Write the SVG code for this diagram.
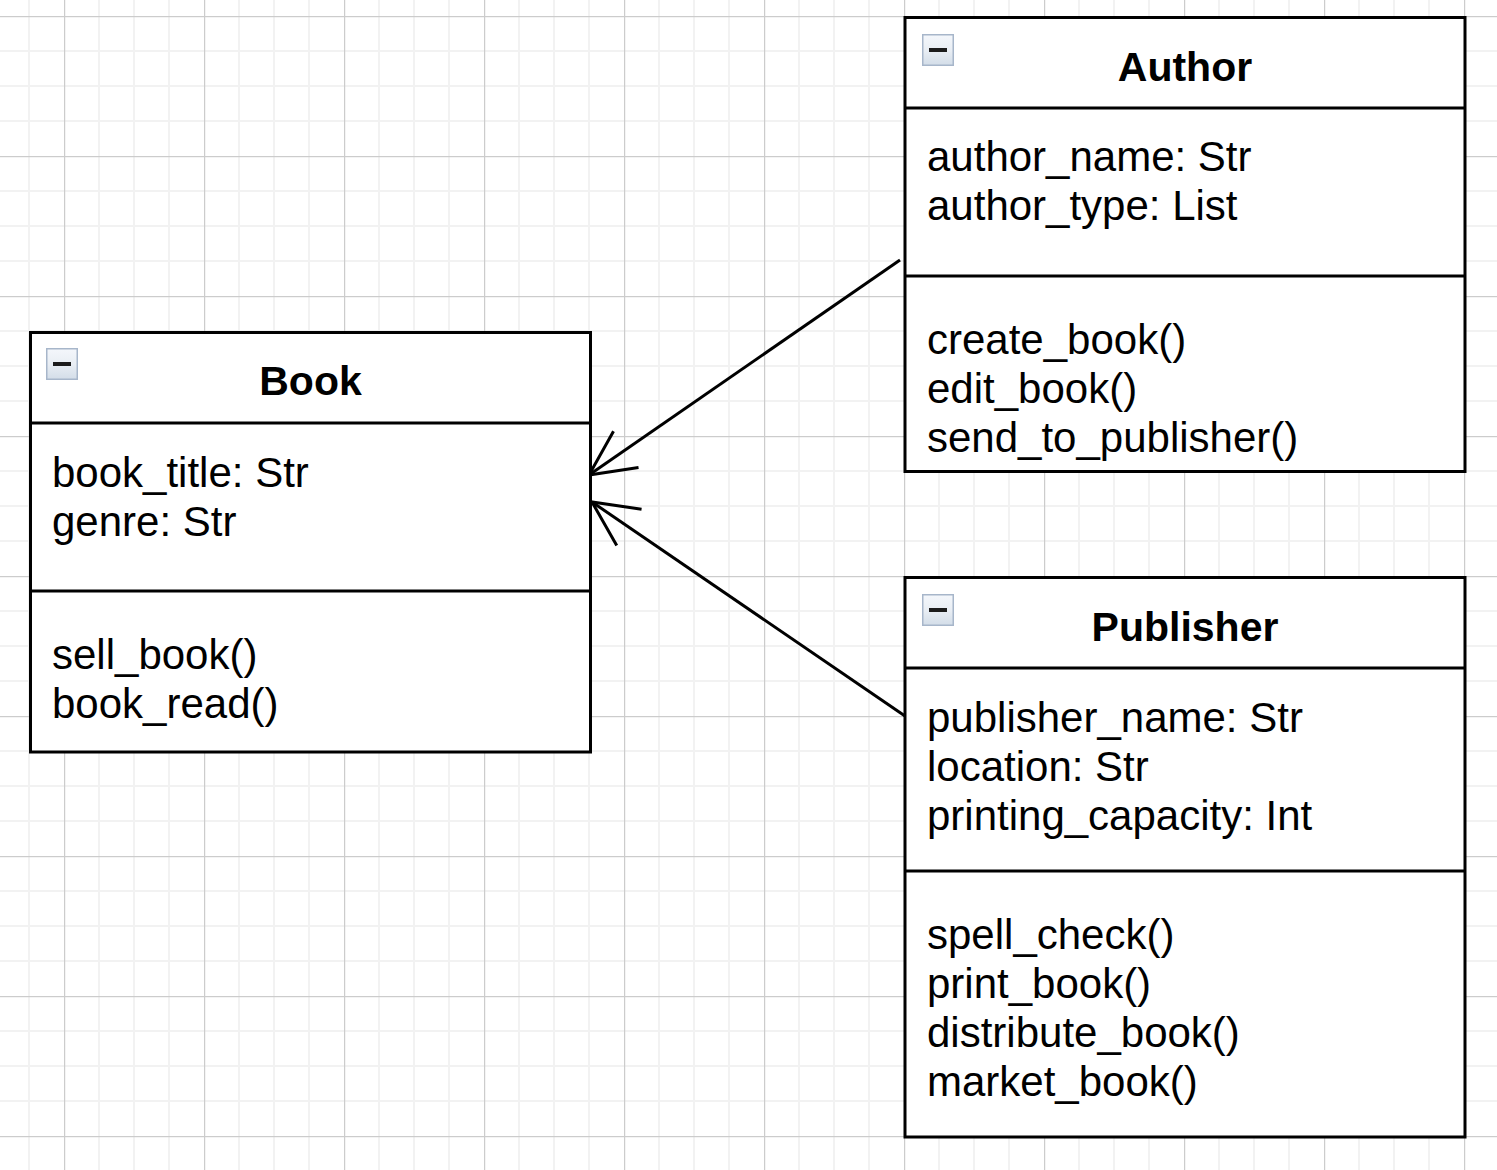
<svg xmlns="http://www.w3.org/2000/svg" width="1497" height="1170" viewBox="0 0 1497 1170">
<style>
.box{fill:#ffffff;stroke:#000000;stroke-width:3}
.div{stroke:#000000;stroke-width:3;fill:none}
.title{font-family:"Liberation Sans",Arial,sans-serif;font-size:41px;font-weight:bold;fill:#000000;text-anchor:middle}
.item{font-family:"Liberation Sans",Arial,sans-serif;font-size:42px;fill:#000000}
.edge{stroke:#000000;stroke-width:3;fill:none}
</style>
<defs>
<pattern id="grid" patternUnits="userSpaceOnUse" x="64" y="16" width="140" height="140">
<rect x="0" y="0" width="140" height="140" fill="#ffffff"/>
<rect x="34" y="0" width="2" height="140" fill="#f2f2f2"/>
<rect x="69" y="0" width="2" height="140" fill="#f2f2f2"/>
<rect x="104" y="0" width="2" height="140" fill="#f2f2f2"/>
<rect x="0" y="34" width="140" height="2" fill="#f2f2f2"/>
<rect x="0" y="69" width="140" height="2" fill="#f2f2f2"/>
<rect x="0" y="104" width="140" height="2" fill="#f2f2f2"/>
<rect x="0" y="0" width="1.2" height="140" fill="#cccccc"/>
<rect x="0" y="0" width="140" height="1.2" fill="#cccccc"/>
</pattern>
<linearGradient id="iconGrad" x1="0" y1="0" x2="0" y2="1">
<stop offset="0" stop-color="#f4f7fb"/>
<stop offset="0.5" stop-color="#e9eef4"/>
<stop offset="1" stop-color="#d3dde8"/>
</linearGradient>
<g id="icon">
<rect x="0.75" y="0.75" width="30.5" height="30.5" fill="url(#iconGrad)" stroke="#a7b6ca" stroke-width="1.5"/>
<rect x="7" y="14" width="18" height="4" fill="#1c1c1c"/>
</g>
<marker id="open" markerUnits="userSpaceOnUse" viewBox="-50 -30 60 60" markerWidth="60" markerHeight="60" refX="0" refY="0" orient="auto" overflow="visible">
<path d="M -45 -22 L 0 0 L -45 22" fill="none" stroke="#000000" stroke-width="3" stroke-linejoin="miter"/>
</marker>
</defs>
<rect x="0" y="0" width="1497" height="1170" fill="url(#grid)"/>

<g id="connectors">
<line class="edge" x1="900" y1="260" x2="589" y2="475" marker-end="url(#open)"/>
<line class="edge" x1="905" y1="716" x2="592" y2="502" marker-end="url(#open)"/>
</g>

<g id="Book">
<rect class="box" x="30.5" y="332.5" width="560" height="419.5"/>
<line class="div" x1="30.5" y1="423" x2="590.5" y2="423"/>
<line class="div" x1="30.5" y1="591" x2="590.5" y2="591"/>
<use href="#icon" x="46" y="348"/>
<text class="title" x="310.5" y="395">Book</text>
<text class="item" x="52" y="487">book_title: Str</text>
<text class="item" x="52" y="536">genre: Str</text>
<text class="item" x="52" y="669">sell_book()</text>
<text class="item" x="52" y="718">book_read()</text>
</g>

<g id="Author">
<rect class="box" x="905" y="17.5" width="560" height="454"/>
<line class="div" x1="905" y1="108" x2="1465" y2="108"/>
<line class="div" x1="905" y1="276" x2="1465" y2="276"/>
<use href="#icon" x="922" y="34"/>
<text class="title" x="1185" y="81">Author</text>
<text class="item" x="927" y="171">author_name: Str</text>
<text class="item" x="927" y="220">author_type: List</text>
<text class="item" x="927" y="354">create_book()</text>
<text class="item" x="927" y="403">edit_book()</text>
<text class="item" x="927" y="452">send_to_publisher()</text>
</g>

<g id="Publisher">
<rect class="box" x="905" y="577.5" width="560" height="559.5"/>
<line class="div" x1="905" y1="668" x2="1465" y2="668"/>
<line class="div" x1="905" y1="871" x2="1465" y2="871"/>
<use href="#icon" x="922" y="594"/>
<text class="title" x="1185" y="641">Publisher</text>
<text class="item" x="927" y="732">publisher_name: Str</text>
<text class="item" x="927" y="781">location: Str</text>
<text class="item" x="927" y="830">printing_capacity: Int</text>
<text class="item" x="927" y="949">spell_check()</text>
<text class="item" x="927" y="998">print_book()</text>
<text class="item" x="927" y="1047">distribute_book()</text>
<text class="item" x="927" y="1096">market_book()</text>
</g>
</svg>
